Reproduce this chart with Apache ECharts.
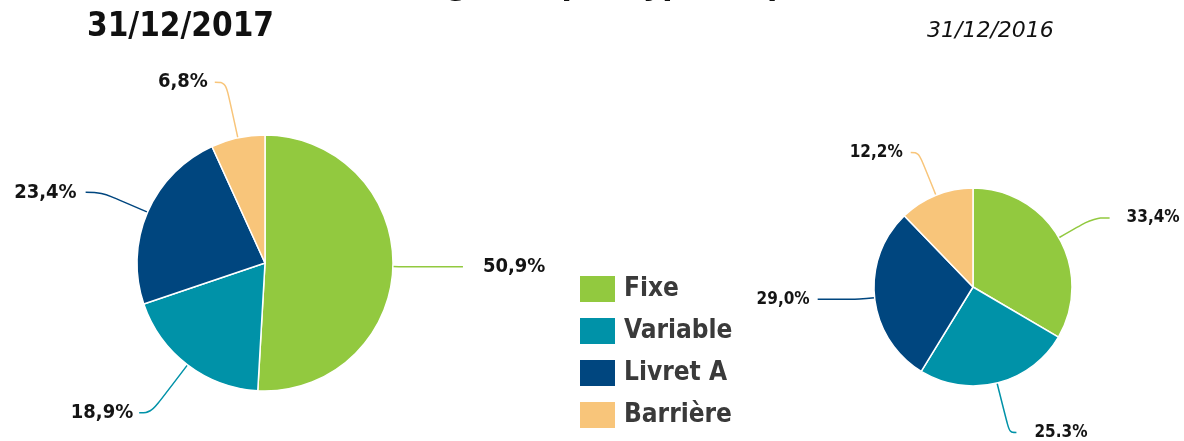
<!DOCTYPE html>
<html>
<head>
<meta charset="utf-8">
<script src="https://cdn.jsdelivr.net/npm/echarts@6/dist/echarts.min.js"></script>
<style>
html,body{margin:0;padding:0;background:#fff;}
#chart{width:1184px;height:441px;}
</style>
</head>
<body>
<div id="chart"></div>
<script>
// ---- data ----
var categories = ['Fixe', 'Variable', 'Livret A', 'Barrière'];
var values2017 = [50.9, 18.9, 23.4, 6.8];
var values2016 = [33.4, 25.3, 29.0, 12.2];
var labels2017 = ['50,9%', '18,9%', '23,4%', '6,8%'];
var labels2016 = ['33,4%', '25.3%', '29,0%', '12,2%'];
var titleText = 'Encours global par type de prêt';
var date2017 = '31/12/2017';
var date2016 = '31/12/2016';

// ---- styles ----
var colors = ['#92C93F', '#0092A8', '#00467F', '#F8C57A'];
// [length, length2, gap between line end and text]
var lineLens2017 = [[6, 64, 20], [60, 12, 6], [50, 16, 9], [57, 11, 7]];
var lineLens2016 = [[40, 16, 17], [51, 7, 18], [15, 42, 8], [46, 8, 8]];
var labelFont = '"DejaVu Sans Condensed", "DejaVu Sans"';

function buildData(values, labels, lens, fontSize) {
  return values.map(function (v, i) {
    return {
      name: categories[i],
      value: v,
      itemStyle: { color: colors[i] },
      label: { formatter: labels[i], distanceToLabelLine: lens[i][2], fontSize: fontSize },
      labelLine: { length: lens[i][0], length2: lens[i][1], lineStyle: { color: colors[i] } }
    };
  });
}

var chart = echarts.init(document.getElementById('chart'), null, { renderer: 'canvas' });
var pieCommon = {
  type: 'pie',
  startAngle: 90,
  clockwise: true,
  avoidLabelOverlap: false,
  itemStyle: { borderColor: '#ffffff', borderWidth: 1.5 },
  label: {
    show: true,
    color: '#141414',
    fontFamily: labelFont,
    fontWeight: 'bold'
  },
  labelLine: { show: true, smooth: 0.4, lineStyle: { width: 1.5 } },
  emphasis: { disabled: true }
};

chart.setOption({
  animation: false,
  color: colors,
  graphic: [
    { type: 'text', x: 302, y: -13,
      style: { text: titleText, font: 'bold 30px "DejaVu Sans"', fill: '#111', textVerticalAlign: 'middle' } },
    { type: 'text', x: 87, y: 27,
      style: { text: date2017, font: 'bold 33px "DejaVu Sans Condensed", "DejaVu Sans"', fill: '#111', textVerticalAlign: 'middle' } },
    { type: 'text', x: 927, y: 31,
      style: { text: date2016, font: 'italic 22px "DejaVu Sans"', fill: '#111', textVerticalAlign: 'middle' } }
  ],
  legend: {
    orient: 'vertical',
    left: 578,
    top: 274,
    padding: 0,
    itemWidth: 37,
    itemHeight: 28,
    itemGap: 12,
    icon: 'rect',
    selectedMode: false,
    data: categories,
    textStyle: { fontFamily: labelFont, fontWeight: 'bold', fontSize: 26, lineHeight: 28, color: '#3a3a3a', padding: [0, 0, 0, 3] }
  },
  series: [
    Object.assign({}, pieCommon, {
      name: date2017,
      center: [265, 263],
      radius: 128,
      data: buildData(values2017, labels2017, lineLens2017, 20)
    }),
    Object.assign({}, pieCommon, {
      name: date2016,
      center: [973, 287],
      radius: 99,
      data: buildData(values2016, labels2016, lineLens2016, 17)
    })
  ]
});
</script>
</body>
</html>
